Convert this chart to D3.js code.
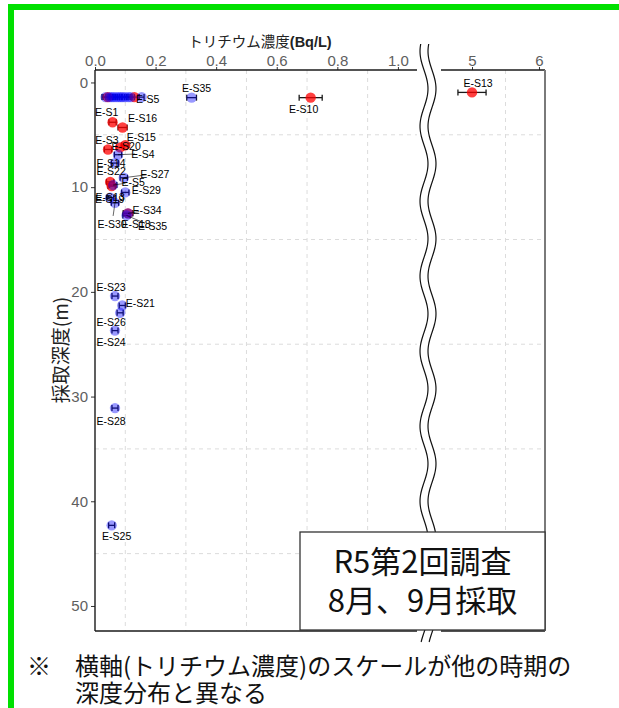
<!DOCTYPE html>
<html><head><meta charset="utf-8">
<script src="https://cdn.jsdelivr.net/npm/d3@7"></script>
<style>
html,body{margin:0;padding:0;background:#fff;}
svg{display:block;}
</style></head><body>
<svg id="chart" width="619" height="708"></svg>
<script>
// Tritium concentration by sampling depth, survey R5 #2 (Aug / Sep)
const sampleIds = [
  "E-S2","E-S6","E-S7","E-S8","E-S9","E-S11","E-S12","E-S17","E-S31","E-S32","E-S33","E-S36","E-S37",
  "E-S5","E-S35","E-S10","E-S13",
  "E-S1","E-S16","E-S15","E-S20","E-S3","E-S4","E-S14","E-S27","E-S22","E-S5","E-S19","E-S29","E-S13",
  "E-S30","E-S18","E-S34","E-S35",
  "E-S23","E-S21","E-S26","E-S24","E-S28","E-S25"
];
const tritium = [
  0.042,0.130,0.035,0.048,0.055,0.062,0.070,0.078,0.085,0.092,0.100,0.110,0.118,
  0.154,0.319,0.712,5.00,
  0.058,0.091,0.100,0.083,0.043,0.076,0.066,0.095,0.050,0.060,0.055,0.100,0.050,
  0.066,0.109,0.109,0.104,
  0.066,0.090,0.083,0.066,0.066,0.055
];
const tritiumErr = [
  0.015,0.012,0.012,0.012,0.012,0.012,0.012,0.012,0.012,0.012,0.012,0.012,0.012,
  0.008,0.016,0.038,0.21,
  0.012,0.015,0.012,0.012,0.012,0.012,0.012,0.012,0.012,0.012,0.012,0.012,0.012,
  0.012,0.015,0.016,0.012,
  0.010,0.010,0.010,0.010,0.010,0.010
];
const depthM = [
  1.4,1.4,1.4,1.4,1.4,1.4,1.4,1.4,1.4,1.4,1.4,1.4,1.4,
  1.4,1.45,1.45,0.95,
  3.8,4.3,6.0,6.2,6.4,6.9,7.7,9.1,9.5,9.8,9.9,10.5,11.0,
  11.5,12.5,12.5,12.7,
  20.4,21.3,22.0,23.7,31.1,42.3
];
const surveyMonth = [
  "8月","8月","9月","9月","9月","9月","9月","9月","9月","9月","9月","9月","9月",
  "9月","9月","8月","8月",
  "8月","8月","8月","8月","8月","9月","9月","9月","8月","9月","8月","9月","9月",
  "9月","8月","9月","9月",
  "9月","9月","9月","9月","9月","9月"
];

const xTicksLeft = [0, 0.2, 0.4, 0.6, 0.8, 1.0];
const xTicksRight = [5, 6];
const xGridLeft = [0.1, 0.3, 0.5, 0.7, 0.9];
const xGridRight = [5.5];
const yTicks = [0, 10, 20, 30, 40, 50];
const yGrid = [5, 15, 25, 35, 45];

// label offsets (px) from each marker; null = label dropped; third item = leader line
const labelNudge = [
  null,null,null,null,null,null,null,null,null,null,null,null,null,
  [6,2],[5,-10],[-7,11],[6,-9],
  [-6,-10],[20,-9],[16,-8],[6,-1],[-1,-9],[25,-1,true],[-4,0],[31,-4,true],[1,-11],[20,-3,true],[-2,13],[21,-2],[0,-1],
  [-3,21,true],[8,11],[19,-3,true],[26,11,true],
  [-4,-9],[18,-2],[-9,9],[-4,11],[-4,13],[5,11]
];

const samples = sampleIds.map((id, i) => ({
  id, value: tritium[i], err: tritiumErr[i], depth: depthM[i],
  month: surveyMonth[i], nudge: labelNudge[i]
}));

const svg = d3.select("#chart");
const plotTop = 70, plotBottom = 631;
const y = d3.scaleLinear().domain([-1.19, 52.39]).range([plotTop, plotBottom]);
const xL = d3.scaleLinear().domain([0, 1.063]).range([95, 417]);
const xR = d3.scaleLinear().domain([4.537, 6.09]).range([441, 545]);
const xOf = d => d.value > 2 ? xR(d.value) : xL(d.value);
const monthColor = {"8月": {fill: "#ff0000", op: 0.75}, "9月": {fill: "#0000ff", op: 0.4}};

// frame
svg.append("rect").attr("x", 8).attr("y", 4).attr("width", 6).attr("height", 704).attr("fill", "#00e000");
svg.append("rect").attr("x", 8).attr("y", 4).attr("width", 611).attr("height", 6).attr("fill", "#00e000");

// grid
const grid = svg.append("g").attr("stroke", "#dcdcdc").attr("stroke-width", 1).attr("stroke-dasharray", "4,4");
[[xL, xGridLeft], [xR, xGridRight]].forEach(([sx, vals]) => {
  vals.forEach(v => grid.append("line").attr("x1", sx(v)).attr("x2", sx(v)).attr("y1", plotTop).attr("y2", plotBottom));
  yGrid.forEach(v => grid.append("line").attr("x1", sx.range()[0]).attr("x2", sx.range()[1]).attr("y1", y(v)).attr("y2", y(v)));
});

// axes
const tickFont = "Liberation Sans, Arial, sans-serif";
function styleAxis(g) {
  g.select(".domain").remove();
  g.selectAll(".tick line").attr("stroke", "#333");
  g.selectAll(".tick text").attr("fill", "#5e5e5e").attr("font-size", 15).attr("font-family", tickFont);
}
svg.append("g").attr("transform", `translate(0,${plotTop})`)
  .call(d3.axisTop(xL).tickValues(xTicksLeft).tickFormat(d3.format(".1f")).tickSize(3).tickPadding(1)).call(styleAxis);
svg.append("g").attr("transform", `translate(0,${plotTop})`)
  .call(d3.axisTop(xR).tickValues(xTicksRight).tickFormat(d3.format("d")).tickSize(3).tickPadding(1)).call(styleAxis);
svg.append("g").attr("transform", `translate(95,0)`)
  .call(d3.axisLeft(y).tickValues(yTicks).tickSize(4).tickPadding(3)).call(styleAxis);

const axisLines = svg.append("g").attr("stroke", "#1a1a1a").attr("stroke-width", 1.4);
axisLines.append("line").attr("x1", 95).attr("x2", 417).attr("y1", plotTop).attr("y2", plotTop);
axisLines.append("line").attr("x1", 441).attr("x2", 545).attr("y1", plotTop).attr("y2", plotTop);
axisLines.append("line").attr("x1", 95).attr("x2", 95).attr("y1", plotTop).attr("y2", plotBottom);
axisLines.append("line").attr("x1", 95).attr("x2", 417).attr("y1", plotBottom).attr("y2", plotBottom);
axisLines.append("line").attr("x1", 441).attr("x2", 545).attr("y1", plotBottom).attr("y2", plotBottom);
svg.append("line").attr("x1", 545).attr("x2", 545).attr("y1", plotTop).attr("y2", plotBottom)
  .attr("stroke", "#7a7a7a").attr("stroke-width", 2);

// axis break: two wavy lines with white between
const waveY = d3.range(44, 644, 2);
const wave = (cx) => waveY.map(v => [cx + 4 * Math.sin(2 * Math.PI * (v - 70) / 75), v]);
const w1 = wave(424), w2 = wave(432);
svg.append("path").attr("d", d3.line()(w1.concat(w2.slice().reverse())) + "Z").attr("fill", "#fff");
[w1, w2].forEach(w => svg.append("path").attr("d", d3.line().curve(d3.curveBasis)(w))
  .attr("fill", "none").attr("stroke", "#111").attr("stroke-width", 1.2));

// axis titles
const title = svg.append("text").attr("x", 260).attr("y", 47).attr("text-anchor", "middle")
  .attr("font-size", 14.5).attr("fill", "#222");
title.append("tspan").attr("font-family", "Noto Sans CJK JP").text("トリチウム濃度");
title.append("tspan").attr("font-family", tickFont).attr("font-weight", "bold").text("(Bq/L)");
svg.append("text").attr("transform", "translate(68,350) rotate(-90)").attr("text-anchor", "middle")
  .attr("font-family", "Noto Sans CJK JP").attr("font-size", 19).attr("fill", "#222").text("採取深度(m)");

// error bars (under the markers)
const eb = svg.append("g").attr("stroke", "#1a1a1a").attr("stroke-width", 1.3);
samples.forEach(d => {
  const sx = d.value > 2 ? xR : xL;
  const x0 = sx(d.value - d.err), x1 = sx(d.value + d.err), cy = y(d.depth);
  eb.append("line").attr("x1", x0).attr("x2", x1).attr("y1", cy).attr("y2", cy);
  [x0, x1].forEach(xx => eb.append("line").attr("x1", xx).attr("x2", xx).attr("y1", cy - 3).attr("y2", cy + 3));
});

// points: August first, September on top
const ordered = samples.slice().sort((a, b) => (a.month === b.month ? 0 : a.month === "8月" ? -1 : 1));
const pts = svg.append("g");
ordered.forEach(d => {
  const c = monthColor[d.month];
  pts.append("circle").attr("cx", xOf(d)).attr("cy", y(d.depth)).attr("r", 5.2)
    .attr("fill", c.fill).attr("fill-opacity", c.op);
});

// labels
const lab = svg.append("g").attr("font-family", tickFont).attr("font-size", 10.5).attr("fill", "#000");
samples.filter(d => d.nudge).forEach(d => {
  const px = xOf(d), py = y(d.depth);
  const lx = px + d.nudge[0], ly = py + d.nudge[1];
  if (d.nudge[2]) {
    const dx = lx - px, dy = ly - py, len = Math.hypot(dx, dy);
    const k = Math.max(0, (len - 8) / len);
    lab.append("line").attr("x1", px).attr("y1", py).attr("x2", px + dx * k).attr("y2", py + dy * k)
      .attr("stroke", "#000").attr("stroke-width", 0.6);
  }
  lab.append("text").attr("x", lx).attr("y", ly).attr("text-anchor", "middle")
    .attr("dominant-baseline", "central").text(d.id);
});

// survey box
svg.append("rect").attr("x", 300).attr("y", 532).attr("width", 245).attr("height", 98)
  .attr("fill", "#fff").attr("stroke", "#333").attr("stroke-width", 1.3);
const boxText = svg.append("g").attr("font-family", "Noto Sans CJK JP").attr("font-size", 31)
  .attr("fill", "#111").attr("text-anchor", "middle");
boxText.append("text").attr("x", 422.5).attr("y", 573).text("R5第2回調査");
boxText.append("text").attr("x", 422.5).attr("y", 612).text("8月、9月採取");

// footnote
const note = svg.append("g").attr("font-family", "Noto Sans CJK JP").attr("font-size", 24).attr("fill", "#111");
note.append("text").attr("x", 27).attr("y", 675).text("※");
note.append("text").attr("x", 75).attr("y", 675).text("横軸(トリチウム濃度)のスケールが他の時期の");
note.append("text").attr("x", 75).attr("y", 702).text("深度分布と異なる");
</script>
</body></html>
